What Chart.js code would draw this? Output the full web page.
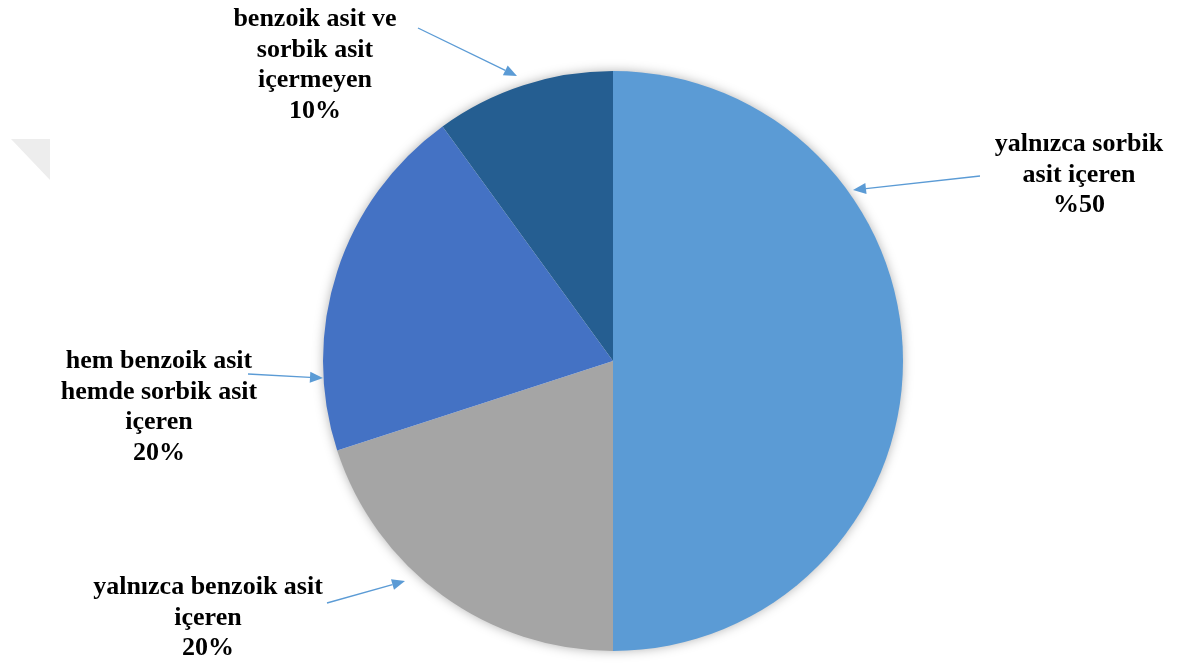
<!DOCTYPE html>
<html>
<head>
<meta charset="utf-8">
<script src="https://cdn.jsdelivr.net/npm/chart.js@4.4.1/dist/chart.umd.min.js"></script>
<style>
  html, body { margin: 0; padding: 0; background: #ffffff; }
  #wrap { width: 1193px; height: 664px; position: relative; }
</style>
</head>
<body>
<div id="wrap"><canvas id="pieChart" width="1193" height="664"></canvas></div>
<script>
// slices in drawing order, clockwise from 12 o'clock
const categories = [
    'yalnızca sorbik asit içeren',
    'yalnızca benzoik asit içeren',
    'hem benzoik asit hemde sorbik asit içeren',
    'benzoik asit ve sorbik asit içermeyen'
];
const shares = [50, 20, 20, 10];
const sliceColors = ['#5B9BD5', '#A5A5A5', '#4472C4', '#255E91'];

// label text as it appears on the picture (line by line)
const labelLines = [
    ['yalnızca sorbik', 'asit içeren', '%50'],
    ['yalnızca benzoik asit', 'içeren', '20%'],
    ['hem benzoik asit', 'hemde sorbik asit', 'içeren', '20%'],
    ['benzoik asit ve', 'sorbik asit', 'içermeyen', '10%']
];

// where each callout sits (text centre / first baseline, arrow tail, arrow tip relative to pie centre)
const callouts = [
    { x: 1079, y: 151, tail: [980, 176], tip: [240, -171] },
    { x: 208, y: 594, tail: [327, 603], tip: [-208, 220] },
    { x: 159, y: 368, tail: [248, 374], tip: [-290, 17] },
    { x: 315, y: 26, tail: [418, 28], tip: [-96, -285] }
];

const calloutPlugin = {
    id: 'callouts',
    beforeDatasetsDraw(chart) {
        const arc = chart.getDatasetMeta(0).data[0];
        const ctx = chart.ctx;
        ctx.save();
        // soft shadow behind the pie
        ctx.shadowColor = 'rgba(0,0,0,0.35)';
        ctx.shadowBlur = 12;
        ctx.fillStyle = '#ffffff';
        ctx.beginPath();
        ctx.arc(arc.x, arc.y, arc.outerRadius - 1, 0, Math.PI * 2);
        ctx.fill();
        ctx.restore();

        // faint grey corner mark on the left
        ctx.save();
        ctx.fillStyle = '#ededed';
        ctx.beginPath();
        ctx.moveTo(11, 139);
        ctx.lineTo(50, 139);
        ctx.lineTo(50, 180);
        ctx.closePath();
        ctx.fill();
        ctx.restore();
    },
    afterDatasetsDraw(chart) {
        const arc = chart.getDatasetMeta(0).data[0];
        const ctx = chart.ctx;
        ctx.save();
        ctx.font = 'bold 26px "Liberation Serif", "Times New Roman", serif';
        ctx.textAlign = 'center';
        ctx.textBaseline = 'alphabetic';
        callouts.forEach((c, i) => {
            ctx.fillStyle = '#000000';
            labelLines[i].forEach((line, j) => {
                ctx.fillText(line, c.x, c.y + j * 30.7);
            });
            const tx = arc.x + c.tip[0];
            const ty = arc.y + c.tip[1];
            const ang = Math.atan2(ty - c.tail[1], tx - c.tail[0]);
            const headLen = 13, headW = 5.5;
            const bx = tx - headLen * Math.cos(ang);
            const by = ty - headLen * Math.sin(ang);
            ctx.strokeStyle = '#5B9BD5';
            ctx.fillStyle = '#5B9BD5';
            ctx.lineWidth = 1.3;
            ctx.beginPath();
            ctx.moveTo(c.tail[0], c.tail[1]);
            ctx.lineTo(bx, by);
            ctx.stroke();
            ctx.beginPath();
            ctx.moveTo(tx, ty);
            ctx.lineTo(bx + headW * Math.sin(ang), by - headW * Math.cos(ang));
            ctx.lineTo(bx - headW * Math.sin(ang), by + headW * Math.cos(ang));
            ctx.closePath();
            ctx.fill();
        });
        ctx.restore();
    }
};

new Chart(document.getElementById('pieChart').getContext('2d'), {
    type: 'pie',
    data: {
        labels: categories,
        datasets: [{
            data: shares,
            backgroundColor: sliceColors,
            borderWidth: 0
        }]
    },
    options: {
        responsive: false,
        animation: false,
        layout: {
            padding: { left: 323, right: 290, top: 71, bottom: 13 }
        },
        plugins: {
            legend: { display: false },
            tooltip: { enabled: false }
        }
    },
    plugins: [calloutPlugin]
});
</script>
</body>
</html>
